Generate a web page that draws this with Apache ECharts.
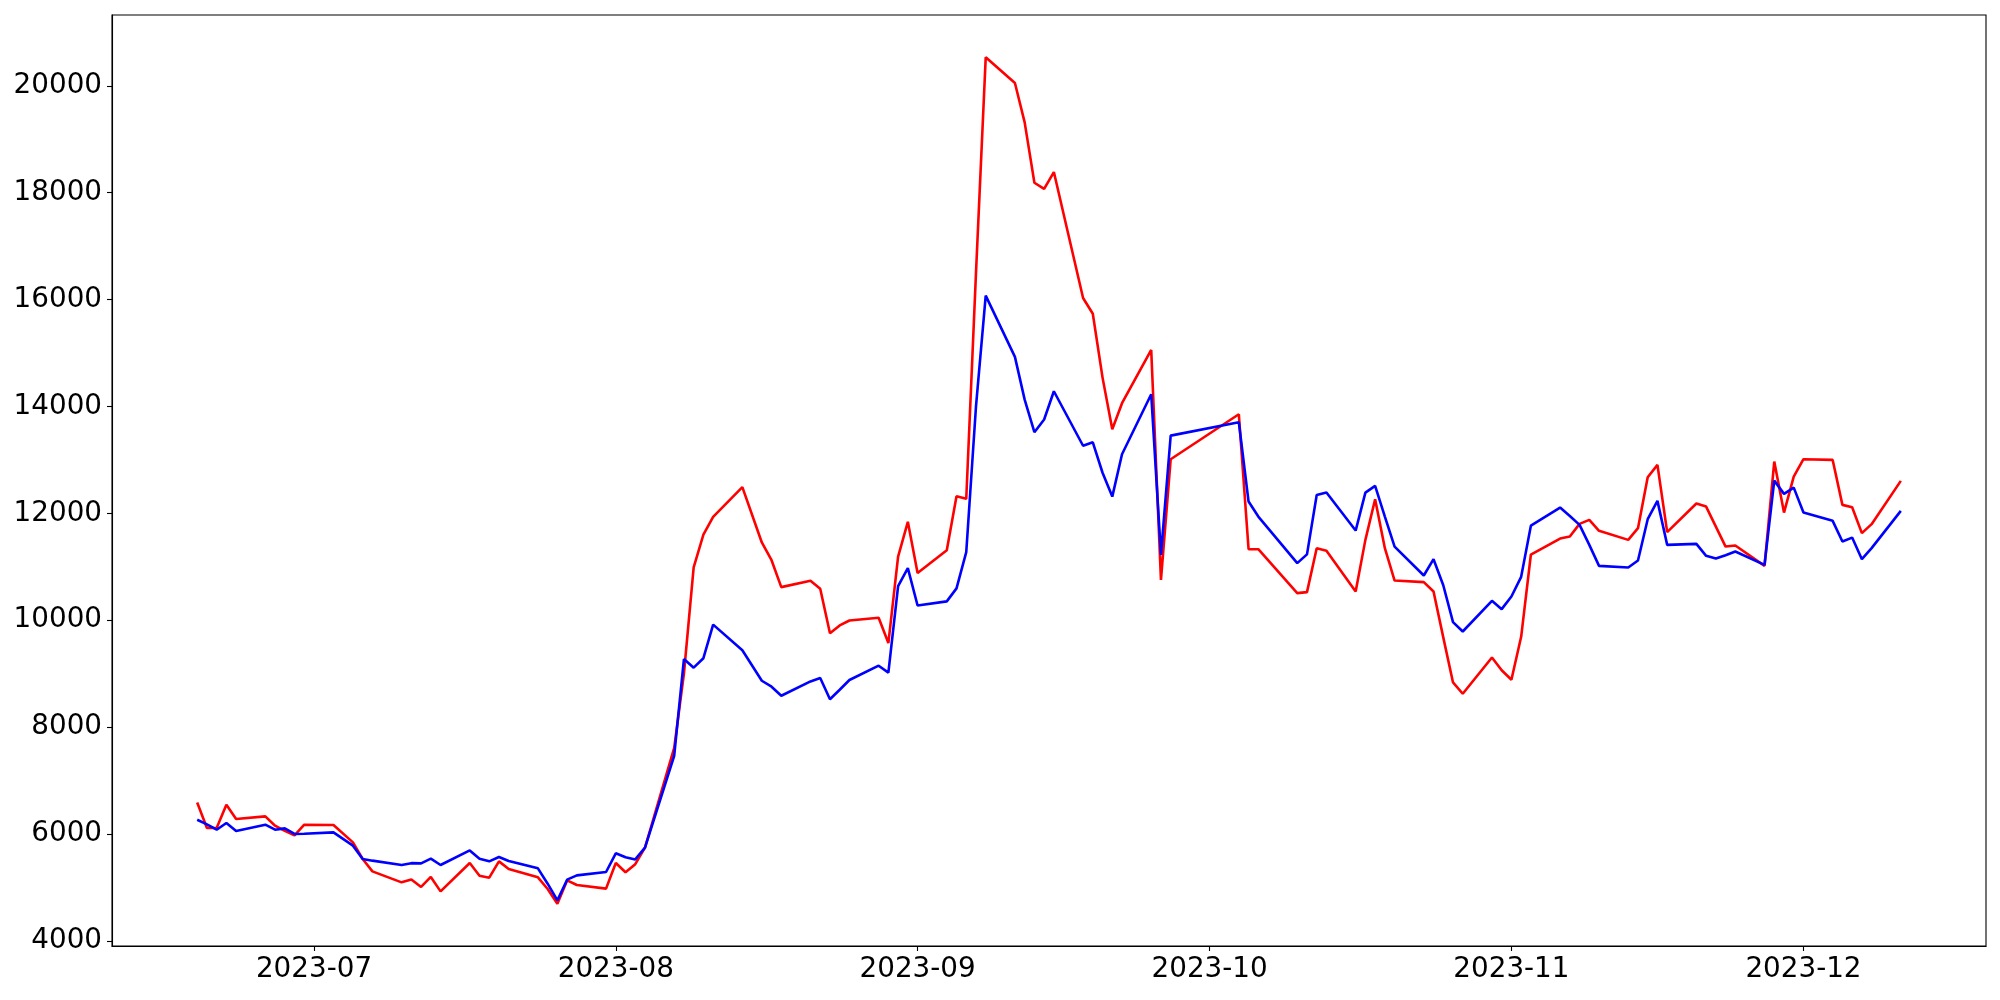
<!DOCTYPE html>
<html><head><meta charset="utf-8">
<script src="https://cdn.jsdelivr.net/npm/echarts@6/dist/echarts.min.js"></script>
<style>html,body{margin:0;padding:0;background:#fff}#c{width:2000px;height:1000px}</style>
</head><body><div id="c"></div>
<script>
const dates = [
'2023-06-19','2023-06-20','2023-06-21','2023-06-22','2023-06-23','2023-06-26','2023-06-27','2023-06-28','2023-06-29','2023-06-30',
'2023-07-03','2023-07-05','2023-07-06','2023-07-07','2023-07-10','2023-07-11','2023-07-12','2023-07-13','2023-07-14',
'2023-07-17','2023-07-18','2023-07-19','2023-07-20','2023-07-21','2023-07-24','2023-07-25','2023-07-26','2023-07-27','2023-07-28',
'2023-07-31','2023-08-01','2023-08-02','2023-08-03','2023-08-04','2023-08-07','2023-08-08','2023-08-09','2023-08-10','2023-08-11',
'2023-08-14','2023-08-16','2023-08-17','2023-08-18','2023-08-21','2023-08-22','2023-08-23','2023-08-24','2023-08-25',
'2023-08-28','2023-08-29','2023-08-30','2023-08-31','2023-09-01','2023-09-04','2023-09-05','2023-09-06','2023-09-07','2023-09-08',
'2023-09-11','2023-09-12','2023-09-13','2023-09-14','2023-09-15','2023-09-18','2023-09-19','2023-09-20','2023-09-21','2023-09-22',
'2023-09-25','2023-09-26','2023-09-27','2023-10-04','2023-10-05','2023-10-06','2023-10-10','2023-10-11','2023-10-12','2023-10-13',
'2023-10-16','2023-10-17','2023-10-18','2023-10-19','2023-10-20','2023-10-23','2023-10-24','2023-10-25','2023-10-26','2023-10-27',
'2023-10-30','2023-10-31','2023-11-01','2023-11-02','2023-11-03','2023-11-06','2023-11-07','2023-11-08','2023-11-09','2023-11-10',
'2023-11-13','2023-11-14','2023-11-15','2023-11-16','2023-11-17','2023-11-20','2023-11-21','2023-11-22','2023-11-23','2023-11-24',
'2023-11-27','2023-11-28','2023-11-29','2023-11-30','2023-12-01','2023-12-04','2023-12-05','2023-12-06','2023-12-07','2023-12-08',
'2023-12-11'
];
const redValues = [
6590,6113,6113,6549,6281,6330,6156,6060,5975,6175,
6170,5844,5533,5302,5096,5150,5010,5197,4927,
5459,5221,5184,5489,5346,5190,4972,4697,5133,5047,
4978,5459,5285,5436,5745,7613,9000,10990,11604,11936,
12490,11456,11123,10620,10738,10590,9756,9904,9995,
10046,9573,11190,11842,10884,11310,12320,12272,16500,20533,
20052,19315,18186,18070,18386,16030,15735,14540,13574,14061,
15057,10756,13013,13855,11330,11330,10508,10527,11349,11300,
10538,11504,12265,11349,10743,10713,10538,9680,8836,8625,
9303,9065,8886,9690,11230,11529,11566,11804,11878,11673,
11504,11723,12677,12907,11648,12185,12127,11753,11379,11398,
11018,12969,12015,12688,13013,13000,12159,12116,11630,11798,
12608
];
const blueValues = [
6268,6180,6081,6206,6057,6175,6081,6106,6001,6005,
6031,5782,5533,5502,5421,5455,5451,5539,5421,
5694,5539,5489,5571,5495,5358,5071,4759,5146,5227,
5290,5640,5565,5525,5745,7465,9275,9113,9290,9918,
9438,8868,8757,8587,8855,8920,8522,8700,8883,
9150,9020,10640,10975,10277,10353,10597,11275,14000,16075,
14928,14128,13518,13756,14285,13265,13330,12760,12314,13107,
14229,11224,13455,13705,12221,11940,11069,11233,12343,12392,
11678,12389,12514,11940,11379,10837,11143,10655,9965,9790,
10364,10208,10444,10812,11769,12108,11950,11785,11411,11018,
10986,11117,11891,12234,11411,11430,11205,11155,11218,11286,
11037,12613,12365,12482,12015,11860,11473,11547,11143,11349,
12047
];
const yTicks = [4000,6000,8000,10000,12000,14000,16000,18000,20000];
const xTickLabels = ['2023-07','2023-08','2023-09','2023-10','2023-11','2023-12'];

function parseDate(s){const p=s.split('-').map(Number);return new Date(p[0],p[1]-1,p[2]||1).getTime();}
const ts = dates.map(parseDate);
const xSpan = ts[ts.length-1]-ts[0];
const xMin = ts[0]-0.05*xSpan, xMax = ts[ts.length-1]+0.05*xSpan;
const allV = redValues.concat(blueValues);
const vMin = Math.min(...allV), vMax = Math.max(...allV);
const ySpan = vMax - vMin;
const yMin = vMin-0.05*ySpan, yMax = vMax+0.05*ySpan;
const xTickVals = xTickLabels.map(parseDate);

const font = {fontFamily:'DejaVu Sans', fontSize:27.8, color:'#000'};
const chart = echarts.init(document.getElementById('c'), null, {renderer:'canvas'});
chart.setOption({
  animation:false,
  grid:{left:112, top:15, width:1874, height:931, show:true, borderColor:'#000', borderWidth:1.1, backgroundColor:'transparent'},
  xAxis:{type:'value', min:xMin, max:xMax, scale:true,
    axisLine:{show:true, lineStyle:{color:'#000', width:1.1}},
    axisTick:{show:true, inside:false, length:5, lineStyle:{color:'#000', width:1.1}, customValues:xTickVals},
    axisLabel:{show:true, margin:10, ...font, customValues:xTickVals,
      formatter:function(v){const d=new Date(v);return d.getFullYear()+'-'+String(d.getMonth()+1).padStart(2,'0');}},
    splitLine:{show:false}},
  yAxis:{type:'value', min:yMin, max:yMax, scale:true,
    axisLine:{show:true, lineStyle:{color:'#000', width:1.1}},
    axisTick:{show:true, inside:false, length:5, lineStyle:{color:'#000', width:1.1}, customValues:yTicks},
    axisLabel:{show:true, margin:10, ...font, customValues:yTicks, formatter:function(v){return String(v);}},
    splitLine:{show:false}},
  series:[
    {type:'line', name:'red', data:ts.map((t,i)=>[t,redValues[i]]), showSymbol:false, symbol:'none',
      lineStyle:{color:'#ff0000', width:2.6}, itemStyle:{color:'#ff0000'}},
    {type:'line', name:'blue', data:ts.map((t,i)=>[t,blueValues[i]]), showSymbol:false, symbol:'none',
      lineStyle:{color:'#0000ff', width:2.6}, itemStyle:{color:'#0000ff'}}
  ]
});
</script></body></html>
